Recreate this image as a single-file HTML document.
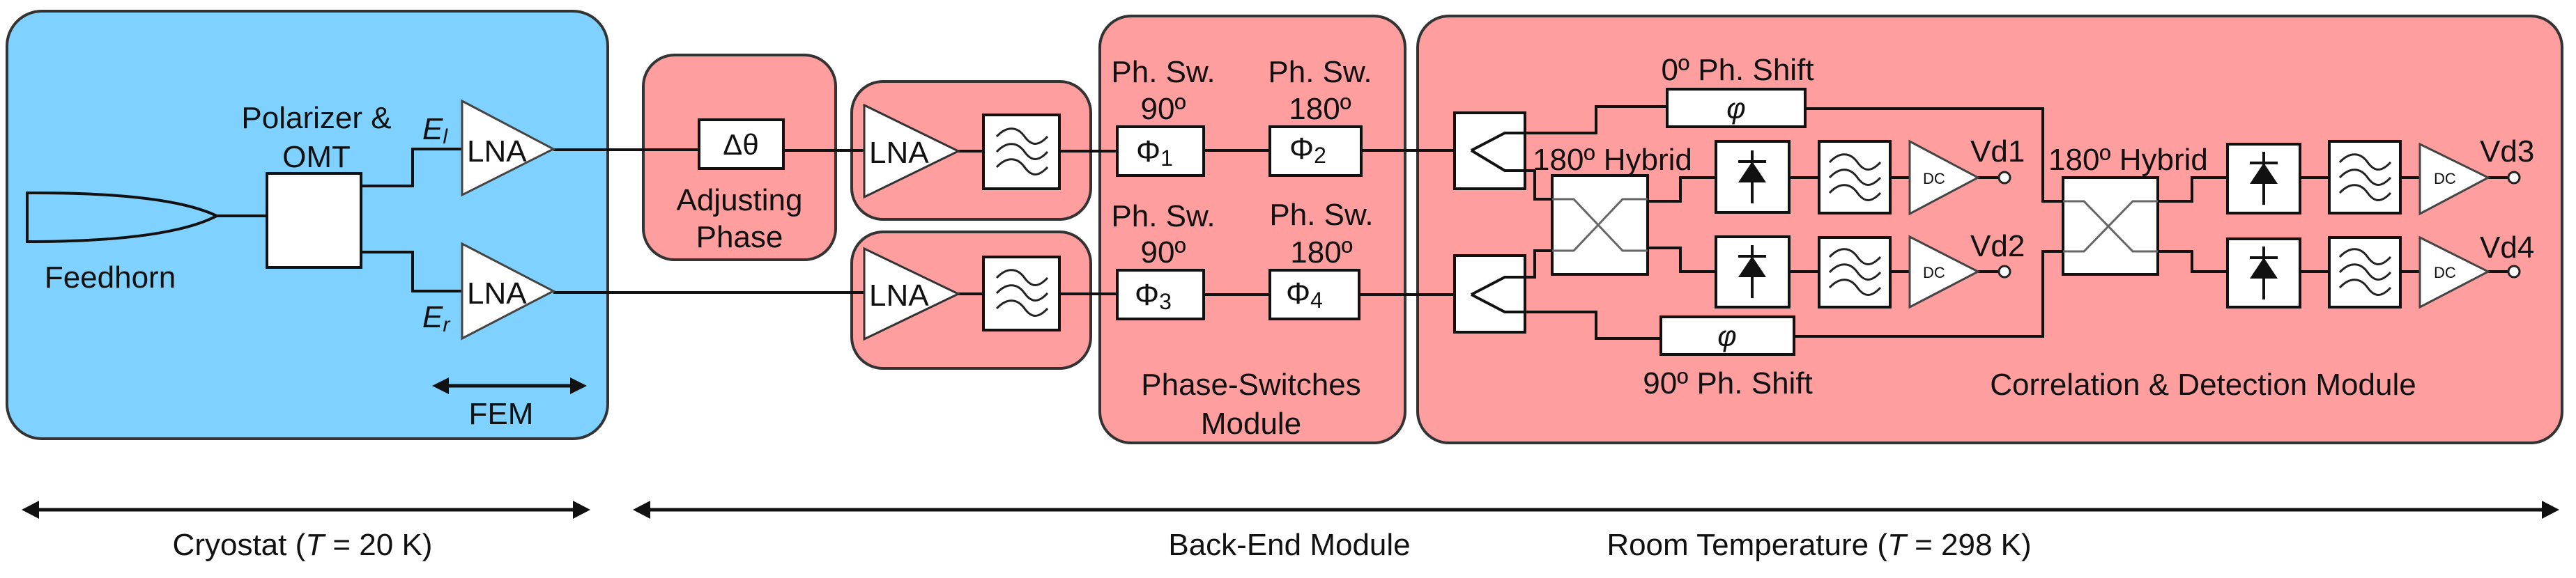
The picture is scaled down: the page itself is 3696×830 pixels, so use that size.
<!DOCTYPE html>
<html><head><meta charset="utf-8"><style>
html,body{margin:0;padding:0;background:#fff}
svg{display:block}
text{font-family:"Liberation Sans",Arial,sans-serif;fill:#111}
</style></head><body>
<svg width="3696" height="830" viewBox="0 0 3696 830" xmlns="http://www.w3.org/2000/svg">
<defs>
<g id="filt">
<path d="M-35 -22 C-20 -38 -5 -36 5 -22 S25 -8 38 -22" fill="none" stroke="#222" stroke-width="3"/>
<path d="M-35 0 C-20 -16 -5 -14 5 0 S25 14 38 0" fill="none" stroke="#222" stroke-width="3"/>
<path d="M-35 22 C-20 6 -5 8 5 22 S25 36 38 22" fill="none" stroke="#222" stroke-width="3"/>
</g>
<g id="diode">
<line x1="0" y1="-38" x2="0" y2="38" stroke="#111" stroke-width="4"/>
<line x1="-20" y1="-22" x2="20" y2="-22" stroke="#111" stroke-width="4"/>
<polygon points="0,-22 -20,8 20,8" fill="#111"/>
</g>
</defs>

<!-- module backgrounds -->
<rect x="10" y="16" width="862" height="614" rx="50" fill="#7fd2ff" stroke="#333" stroke-width="4"/>
<rect x="923" y="79" width="276" height="294" rx="45" fill="#ff9e9e" stroke="#333" stroke-width="4"/>
<rect x="1222" y="117" width="343" height="198" rx="45" fill="#ff9e9e" stroke="#333" stroke-width="4"/>
<rect x="1222" y="333" width="343" height="196" rx="45" fill="#ff9e9e" stroke="#333" stroke-width="4"/>
<rect x="1578" y="23" width="438" height="613" rx="45" fill="#ff9e9e" stroke="#333" stroke-width="4"/>
<rect x="2034" y="23" width="1642" height="613" rx="45" fill="#ff9e9e" stroke="#333" stroke-width="4"/>

<g fill="none" stroke="#111" stroke-width="4">
<!-- feedhorn -->
<path d="M311 310 Q240 276 39 277 L39 347 Q240 347 311 310" fill="none" stroke-width="4"/>
<line x1="311" y1="310" x2="383" y2="310"/>
<path d="M518 267 H592 V214 H663"/>
<path d="M518 362 H592 V418 H663"/>
<line x1="794" y1="215" x2="1003" y2="215"/>
<line x1="1124" y1="216" x2="1240" y2="216"/>
<line x1="794" y1="420" x2="1240" y2="420"/>
<line x1="1375" y1="217" x2="1411" y2="217"/>
<line x1="1520" y1="217" x2="1603" y2="217"/>
<line x1="1375" y1="422" x2="1411" y2="422"/>
<line x1="1520" y1="422" x2="1603" y2="422"/>
<line x1="1727" y1="216" x2="1822" y2="216"/>
<line x1="1953" y1="216" x2="2111" y2="216"/>
<line x1="1727" y1="423" x2="1822" y2="423"/>
<line x1="1950" y1="423" x2="2111" y2="423"/>
</g>

<!-- cryostat components -->
<rect x="383" y="249" width="135" height="135" fill="#fff" stroke="#111" stroke-width="4"/>
<polygon points="663,145 794,214 663,280" fill="#fff" stroke="#444" stroke-width="3"/>
<polygon points="663,350 794,418 663,486" fill="#fff" stroke="#444" stroke-width="3"/>
<text x="670" y="232" font-size="44">LNA</text>
<text x="670" y="436" font-size="44">LNA</text>
<text x="606" y="200" font-size="44" font-style="italic">E<tspan font-size="30" dy="6">l</tspan></text>
<text x="606" y="470" font-size="44" font-style="italic">E<tspan font-size="30" dy="6">r</tspan></text>
<text x="454" y="184" font-size="44" text-anchor="middle">Polarizer &amp;</text>
<text x="454" y="240" font-size="44" text-anchor="middle">OMT</text>
<text x="158" y="413" font-size="44" text-anchor="middle">Feedhorn</text>
<line x1="640" y1="554" x2="822" y2="554" stroke="#111" stroke-width="5"/>
<polygon points="620,554 644,542 644,566" fill="#111"/>
<polygon points="842,554 818,542 818,566" fill="#111"/>
<text x="719" y="609" font-size="44" text-anchor="middle">FEM</text>

<!-- adjusting phase -->
<rect x="1003" y="172" width="121" height="70" fill="#fff" stroke="#111" stroke-width="4"/>
<text x="1063" y="222" font-size="42" text-anchor="middle">Δθ</text>
<text x="1061" y="302" font-size="44" text-anchor="middle">Adjusting</text>
<text x="1061" y="355" font-size="44" text-anchor="middle">Phase</text>

<!-- LNA + filter -->
<polygon points="1240,151 1375,217 1240,283" fill="#fff" stroke="#333" stroke-width="3"/>
<text x="1247" y="234" font-size="44">LNA</text>
<rect x="1411" y="165" width="109" height="106" fill="#fff" stroke="#111" stroke-width="4"/>
<use href="#filt" x="1465" y="218"/>
<polygon points="1240,357 1375,422 1240,487" fill="#fff" stroke="#333" stroke-width="3"/>
<text x="1247" y="439" font-size="44">LNA</text>
<rect x="1411" y="369" width="109" height="105" fill="#fff" stroke="#111" stroke-width="4"/>
<use href="#filt" x="1465" y="421"/>

<!-- phase switches -->
<rect x="1603" y="182" width="124" height="70" fill="#fff" stroke="#111" stroke-width="4"/>
<rect x="1822" y="182" width="131" height="70" fill="#fff" stroke="#111" stroke-width="4"/>
<rect x="1603" y="388" width="124" height="70" fill="#fff" stroke="#111" stroke-width="4"/>
<rect x="1822" y="388" width="128" height="70" fill="#fff" stroke="#111" stroke-width="4"/>
<text x="1630" y="232" font-size="44" font-family="Liberation Serif">Φ<tspan font-size="32" dy="6">1</tspan></text>
<text x="1850" y="228" font-size="44" font-family="Liberation Serif">Φ<tspan font-size="32" dy="6">2</tspan></text>
<text x="1628" y="438" font-size="44" font-family="Liberation Serif">Φ<tspan font-size="32" dy="6">3</tspan></text>
<text x="1845" y="436" font-size="44" font-family="Liberation Serif">Φ<tspan font-size="32" dy="6">4</tspan></text>
<g font-size="44" text-anchor="middle">
<text x="1669" y="118">Ph. Sw.</text><text x="1669" y="171">90º</text>
<text x="1894" y="118">Ph. Sw.</text><text x="1894" y="171">180º</text>
<text x="1669" y="325">Ph. Sw.</text><text x="1669" y="377">90º</text>
<text x="1896" y="323">Ph. Sw.</text><text x="1896" y="377">180º</text>
<text x="1795" y="567">Phase-Switches</text>
<text x="1795" y="623">Module</text>
<text x="2493" y="115">0º Ph. Shift</text>
<text x="2479" y="565">90º Ph. Shift</text>
<text x="3161" y="567">Correlation &amp; Detection Module</text>
</g>

<!-- correlation module -->
<rect x="2087" y="162" width="101" height="109" fill="#fff" stroke="#111" stroke-width="4"/>
<rect x="2087" y="367" width="101" height="110" fill="#fff" stroke="#111" stroke-width="4"/>
<rect x="2392" y="128" width="198" height="54" fill="#fff" stroke="#111" stroke-width="4"/>
<rect x="2383" y="455" width="191" height="54" fill="#fff" stroke="#111" stroke-width="4"/>
<text x="2491" y="170" font-size="42" font-style="italic" text-anchor="middle" font-family="Liberation Serif">φ</text>
<text x="2478" y="497" font-size="42" font-style="italic" text-anchor="middle" font-family="Liberation Serif">φ</text>
<rect x="2227" y="252" width="137" height="142" fill="#fff" stroke="#111" stroke-width="4"/>
<rect x="2960" y="255" width="136" height="139" fill="#fff" stroke="#111" stroke-width="4"/>
<g fill="none" stroke="#111" stroke-width="4">
<path d="M2111 216 L2159 191 H2290 V153 H2392"/>
<path d="M2111 216 L2159 245 H2202 V286 H2227"/>
<path d="M2111 423 L2159 398 H2202 V360 H2227"/>
<path d="M2111 423 L2159 448 H2290 V486 H2383"/>
<path d="M2590 156 H2931 V289 H2960"/>
<path d="M2574 483 H2931 V361 H2960"/>
<path d="M2364 289 H2411 V255 H2462"/>
<path d="M2364 356 H2411 V390 H2462"/>
<line x1="2567" y1="255" x2="2610" y2="255"/>
<line x1="2567" y1="390" x2="2610" y2="390"/>
<line x1="2712" y1="255" x2="2740" y2="255"/>
<line x1="2712" y1="390" x2="2740" y2="390"/>
<line x1="2838" y1="255" x2="2868" y2="255"/>
<line x1="2838" y1="390" x2="2868" y2="390"/>
<path d="M3096 289 H3145 V255 H3196"/>
<path d="M3096 361 H3145 V390 H3196"/>
<line x1="3300" y1="255" x2="3342" y2="255"/>
<line x1="3300" y1="390" x2="3342" y2="390"/>
<line x1="3444" y1="255" x2="3472" y2="255"/>
<line x1="3444" y1="390" x2="3472" y2="390"/>
<line x1="3570" y1="255" x2="3599" y2="255"/>
<line x1="3570" y1="390" x2="3599" y2="390"/>
</g>
<g fill="none" stroke="#666" stroke-width="3">
<path d="M2227 286 H2258 L2328 360 H2364"/>
<path d="M2227 360 H2258 L2328 286 H2364"/>
<path d="M2960 289 H2990 L3060 361 H3096"/>
<path d="M2960 361 H2990 L3060 289 H3096"/>
</g>
<text x="2199" y="244" font-size="44">180º Hybrid</text>
<text x="2939" y="244" font-size="44">180º Hybrid</text>

<rect x="2462" y="203" width="105" height="102" fill="#fff" stroke="#111" stroke-width="4"/>
<rect x="2462" y="340" width="105" height="101" fill="#fff" stroke="#111" stroke-width="4"/>
<rect x="3196" y="207" width="104" height="99" fill="#fff" stroke="#111" stroke-width="4"/>
<rect x="3196" y="343" width="104" height="98" fill="#fff" stroke="#111" stroke-width="4"/>
<use href="#diode" x="2514" y="254"/>
<use href="#diode" x="2514" y="390"/>
<use href="#diode" x="3248" y="256"/>
<use href="#diode" x="3248" y="392"/>

<rect x="2610" y="203" width="102" height="103" fill="#fff" stroke="#111" stroke-width="4"/>
<rect x="2610" y="341" width="102" height="100" fill="#fff" stroke="#111" stroke-width="4"/>
<rect x="3342" y="203" width="102" height="103" fill="#fff" stroke="#111" stroke-width="4"/>
<rect x="3342" y="341" width="102" height="100" fill="#fff" stroke="#111" stroke-width="4"/>
<use href="#filt" x="2660" y="255"/>
<use href="#filt" x="2660" y="391"/>
<use href="#filt" x="3392" y="255"/>
<use href="#filt" x="3392" y="391"/>

<polygon points="2740,203 2838,255 2740,307" fill="#fff" stroke="#444" stroke-width="3"/>
<polygon points="2740,340 2838,390 2740,441" fill="#fff" stroke="#444" stroke-width="3"/>
<polygon points="3472,207 3570,255 3472,307" fill="#fff" stroke="#444" stroke-width="3"/>
<polygon points="3472,341 3570,390 3472,441" fill="#fff" stroke="#444" stroke-width="3"/>
<g font-size="22" fill="#223">
<text x="2759" y="264">DC</text><text x="2759" y="399">DC</text>
<text x="3492" y="264">DC</text><text x="3492" y="399">DC</text>
</g>
<g fill="#fff" stroke="#222" stroke-width="3">
<circle cx="2876" cy="255" r="8"/><circle cx="2876" cy="390" r="8"/>
<circle cx="3607" cy="255" r="8"/><circle cx="3607" cy="390" r="8"/>
</g>
<g font-size="44">
<text x="2827" y="232">Vd1</text><text x="2827" y="368">Vd2</text>
<text x="3558" y="232">Vd3</text><text x="3558" y="370">Vd4</text>
</g>

<!-- bottom arrows -->
<line x1="50" y1="732" x2="828" y2="732" stroke="#111" stroke-width="5"/>
<polygon points="31,732 56,719 56,745" fill="#111"/>
<polygon points="847,732 822,719 822,745" fill="#111"/>
<line x1="928" y1="732" x2="3650" y2="732" stroke="#111" stroke-width="5"/>
<polygon points="908,732 933,719 933,745" fill="#111"/>
<polygon points="3672,732 3647,719 3647,745" fill="#111"/>
<g font-size="44" text-anchor="middle">
<text x="434" y="797">Cryostat (<tspan font-style="italic">T</tspan> = 20 K)</text>
<text x="1850" y="797">Back-End Module</text>
<text x="2610" y="797">Room Temperature (<tspan font-style="italic">T</tspan> = 298 K)</text>
</g>
</svg>
</body></html>
